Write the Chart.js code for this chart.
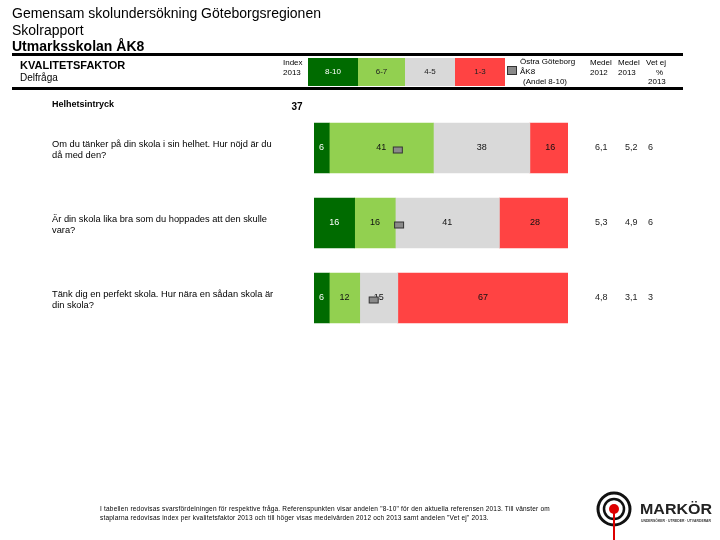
<!DOCTYPE html>
<html>
<head>
<meta charset="utf-8">
<script src="https://cdn.jsdelivr.net/npm/chart.js@4.4.1/dist/chart.umd.min.js"></script>
<style>
  html, body { margin: 0; padding: 0; background: #fff; }
  #wrap { position: relative; width: 720px; height: 540px; overflow: hidden; font-family: "Liberation Sans", Arial, sans-serif; color: #000; }
  #wrap canvas { position: absolute; left: 0; top: 0; }
  .t { position: absolute; white-space: nowrap; line-height: 1; }
  .hline { position: absolute; background: #000; }
</style>
</head>
<body>
<div id="wrap">
  <canvas id="c" width="720" height="540"></canvas>
</div>
<script>
// ---- data ----
const categories = [
  ["Om du tänker på din skola i sin helhet. Hur nöjd är du", "då med den?"],
  ["Är din skola lika bra som du hoppades att den skulle", "vara?"],
  ["Tänk dig en perfekt skola. Hur nära en sådan skola är", "din skola?"]
];
const share8to10 = [6, 16, 6];
const share6to7 = [41, 16, 12];
const share4to5 = [38, 41, 15];
const share1to3 = [16, 28, 67];
const refShare8to10 = [33, 33.5, 23.5];
const medel2012 = [6.1, 5.3, 4.8];
const medel2013 = [5.2, 4.9, 3.1];
const vetEj2013 = [6, 6, 3];
const factorName = "Helhetsintryck";
const factorIndex2013 = 37;
const legendLabels = ["8-10", "6-7", "4-5", "1-3"];

const colors = ["#006b00", "#92d050", "#d9d9d9", "#ff4343"];
const labelColors = ["#ffffff", "#111111", "#111111", "#111111"];

const wrap = document.getElementById('wrap');
function addText(txt, x, y, size, opts) {
  opts = opts || {};
  const d = document.createElement('div');
  d.className = 't';
  d.textContent = txt;
  d.style.left = x + 'px';
  d.style.top = y + 'px';
  d.style.fontSize = size + 'px';
  if (opts.bold) d.style.fontWeight = 'bold';
  if (opts.color) d.style.color = opts.color;
  if (opts.align === 'center') { d.style.transform = 'translateX(-50%)'; }
  if (opts.align === 'right') { d.style.transform = 'translateX(-100%)'; }
  if (opts.ls) d.style.letterSpacing = opts.ls + 'px';
  wrap.appendChild(d);
  return d;
}
function addLine(x, y, w, h) {
  const d = document.createElement('div');
  d.className = 'hline';
  d.style.left = x + 'px'; d.style.top = y + 'px';
  d.style.width = w + 'px'; d.style.height = h + 'px';
  wrap.appendChild(d);
}

// Titles
addText("Gemensam skolundersökning Göteborgsregionen", 12, 6, 14);
addText("Skolrapport", 12, 23, 14);
addText("Utmarksskolan ÅK8", 12, 39, 14, {bold: true});
addLine(12, 53, 671, 3);
addLine(12, 87, 671, 3);
addText("KVALITETSFAKTOR", 20, 60, 11, {bold: true});
addText("Delfråga", 20, 73, 10);
addText("Index", 283, 59, 8);
addText("2013", 283, 69, 8);
addText("Östra Göteborg", 520, 58, 8);
addText("ÅK8", 520, 68, 8);
addText("(Andel 8-10)", 523, 78, 8);
addText("Medel", 590, 59, 8);
addText("2012", 590, 69, 8);
addText("Medel", 618, 59, 8);
addText("2013", 618, 69, 8);
addText("Vet ej", 646, 59, 8);
addText("%", 656, 69, 8);
addText("2013", 648, 78, 8);
// Legend boxes
const legX = [308, 358, 405, 455, 505];
for (let i = 0; i < 4; i++) {
  const b = document.createElement('div');
  b.style.position = 'absolute';
  b.style.left = legX[i] + 'px'; b.style.top = '58px';
  b.style.width = (legX[i+1] - legX[i]) + 'px'; b.style.height = '28px';
  b.style.background = colors[i];
  wrap.appendChild(b);
  addText(legendLabels[i], (legX[i] + legX[i+1]) / 2, 68, 8, {align: 'center', color: i === 0 ? '#fff' : '#222'});
}
const lm = document.createElement('div');
lm.style.cssText = 'position:absolute;left:507px;top:66px;width:8px;height:7px;background:#8a8a8a;border:1px solid #333;';
wrap.appendChild(lm);

addText(factorName, 52, 100, 9, {bold: true});
addText(String(factorIndex2013), 297, 102, 10, {bold: true, align: 'center'});

// Footer
addText("I tabellen redovisas svarsfördelningen för respektive fråga. Referenspunkten visar andelen \"8-10\" för den aktuella referensen 2013. Till vänster om", 100, 506, 6.5, {ls: 0.2});
addText("staplarna redovisas index per kvalitetsfaktor 2013 och till höger visas medelvärden 2012 och 2013 samt andelen \"Vet ej\" 2013.", 100, 515, 6.5, {ls: 0.2});

// Logo (SVG)
const svgNS = "http://www.w3.org/2000/svg";
const logo = document.createElementNS(svgNS, 'svg');
logo.setAttribute('width', '130'); logo.setAttribute('height', '55');
logo.style.position = 'absolute'; logo.style.left = '590px'; logo.style.top = '485px';
logo.innerHTML =
  '<circle cx="24" cy="24" r="16" fill="none" stroke="#111" stroke-width="3"/>' +
  '<circle cx="24" cy="24" r="10" fill="none" stroke="#111" stroke-width="2.5"/>' +
  '<line x1="24" y1="24" x2="24" y2="55" stroke="#d00" stroke-width="2"/>' +
  '<circle cx="24" cy="24" r="5" fill="#d00"/>' +
  '<text x="50" y="29" font-family="Liberation Sans, Arial" font-weight="bold" font-size="15.5" fill="#222" textLength="72" lengthAdjust="spacingAndGlyphs">MARKÖR</text>' +
  '<text x="51" y="37" font-family="Liberation Sans, Arial" font-weight="bold" font-size="3.4" fill="#333" textLength="70" lengthAdjust="spacingAndGlyphs">UNDERSÖKER · UTREDER · UTVÄRDERAR</text>';
wrap.appendChild(logo);

// Question texts
const rowCenters = [148, 223, 298];
categories.forEach((lines, i) => {
  addText(lines[0], 52, rowCenters[i] - 8, 9.3);
  addText(lines[1], 52, rowCenters[i] + 2.5, 9.3);
});

// ---- chart ----
const segLabelPlugin = {
  id: 'segLabels',
  afterDatasetsDraw(chart) {
    const ctx = chart.ctx;
    const xs = chart.scales.x, ys = chart.scales.y;
    ctx.save();
    ctx.font = '9px "Liberation Sans", Arial, sans-serif';
    ctx.textAlign = 'center';
    ctx.textBaseline = 'middle';
    chart.data.datasets.forEach((ds, di) => {
      const meta = chart.getDatasetMeta(di);
      meta.data.forEach((bar, i) => {
        const v = ds.data[i];
        const x = (bar.x + bar.base) / 2;
        ctx.fillStyle = labelColors[di];
        ctx.fillText(String(v), x, bar.y);
      });
    });
    // reference markers
    refShare8to10.forEach((r, i) => {
      const x = xs.getPixelForValue(r);
      const y = ys.getPixelForValue(i) + 2;
      ctx.fillStyle = '#8a8a8a';
      ctx.fillRect(x - 4.5, y - 3, 9, 6);
      ctx.strokeStyle = '#333';
      ctx.lineWidth = 1;
      ctx.strokeRect(x - 4.5, y - 3, 9, 6);
    });
    // right-hand columns
    ctx.fillStyle = '#222';
    ctx.textAlign = 'left';
    const fmt = v => v.toFixed(1).replace('.', ',');
    for (let i = 0; i < medel2012.length; i++) {
      const y = ys.getPixelForValue(i);
      ctx.fillText(fmt(medel2012[i]), 595, y);
      ctx.fillText(fmt(medel2013[i]), 625, y);
      ctx.fillText(String(vetEj2013[i]), 648, y);
    }
    ctx.restore();
  }
};

new Chart(document.getElementById('c'), {
  type: 'bar',
  data: {
    labels: categories.map(c => c.join(' ')),
    datasets: [
      { label: legendLabels[0], data: share8to10, backgroundColor: colors[0] },
      { label: legendLabels[1], data: share6to7, backgroundColor: colors[1] },
      { label: legendLabels[2], data: share4to5, backgroundColor: colors[2] },
      { label: legendLabels[3], data: share1to3, backgroundColor: colors[3] }
    ]
  },
  options: {
    indexAxis: 'y',
    responsive: false,
    animation: false,
    events: [],
    layout: { padding: { left: 314, right: 152, top: 110.5, bottom: 204.5 } },
    datasets: { bar: { barThickness: 50, borderWidth: 0 } },
    scales: {
      x: { stacked: true, min: 0, max: 100, display: false },
      y: { stacked: true, display: false }
    },
    plugins: { legend: { display: false }, tooltip: { enabled: false } }
  },
  plugins: [segLabelPlugin]
});
</script>
</body>
</html>
